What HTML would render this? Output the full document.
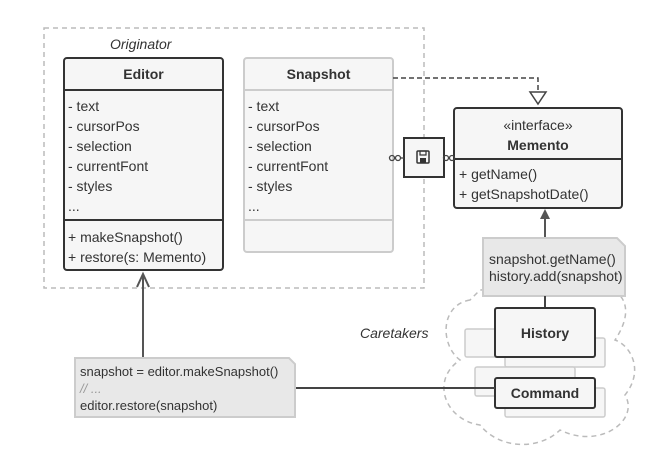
<!DOCTYPE html>
<html><head><style>
body{margin:0;background:#fff}
svg{display:block}
text{font-family:"Liberation Sans",sans-serif;font-size:14px;fill:#333}
.b{font-weight:bold}
.i{font-style:italic}
.n{font-size:13px}
</style></head><body>
<svg width="672" height="470" viewBox="0 0 672 470">
<!-- Originator -->
<rect x="44" y="28" width="380" height="260" fill="none" stroke="#bbb" stroke-width="1.5" stroke-dasharray="5,4"/>
<text x="110" y="49" class="i">Originator</text>
<!-- Editor -->
<rect x="64" y="58" width="159" height="212" rx="3" fill="#f6f6f6" stroke="#333" stroke-width="2"/>
<line x1="64" y1="90" x2="223" y2="90" stroke="#333" stroke-width="2"/>
<line x1="64" y1="220" x2="223" y2="220" stroke="#333" stroke-width="2"/>
<text x="143.5" y="79" text-anchor="middle" class="b">Editor</text>
<text x="68" y="111">- text</text>
<text x="68" y="131">- cursorPos</text>
<text x="68" y="151">- selection</text>
<text x="68" y="171">- currentFont</text>
<text x="68" y="191">- styles</text>
<text x="68" y="211">...</text>
<text x="68" y="242">+ makeSnapshot()</text>
<text x="68" y="262">+ restore(s: Memento)</text>
<!-- Snapshot -->
<rect x="244" y="58" width="149" height="194" rx="3" fill="#f6f6f6" stroke="#ccc" stroke-width="2"/>
<line x1="244" y1="90" x2="393" y2="90" stroke="#ccc" stroke-width="2"/>
<line x1="244" y1="220" x2="393" y2="220" stroke="#ccc" stroke-width="2"/>
<text x="318.5" y="79" text-anchor="middle" class="b">Snapshot</text>
<text x="248" y="111">- text</text>
<text x="248" y="131">- cursorPos</text>
<text x="248" y="151">- selection</text>
<text x="248" y="171">- currentFont</text>
<text x="248" y="191">- styles</text>
<text x="248" y="211">...</text>
<!-- realization dashed -->
<polyline points="393,78 538,78 538,92" fill="none" stroke="#444" stroke-width="1.5" stroke-dasharray="5,3"/>
<polygon points="530,92 546,92 538,104" fill="#fff" stroke="#444" stroke-width="1.5"/>
<!-- Memento -->
<rect x="454" y="108" width="168" height="100" rx="3" fill="#f6f6f6" stroke="#333" stroke-width="2"/>
<line x1="454" y1="159" x2="622" y2="159" stroke="#333" stroke-width="2"/>
<text x="538" y="130" text-anchor="middle">«interface»</text>
<text x="538" y="150" text-anchor="middle" class="b">Memento</text>
<text x="459" y="179">+ getName()</text>
<text x="459" y="199">+ getSnapshotDate()</text>
<!-- save icon box -->
<rect x="404" y="138" width="40" height="39" fill="#f6f6f6" stroke="#333" stroke-width="2"/>
<rect x="417" y="151" width="12" height="12" rx="1" fill="none" stroke="#333" stroke-width="1.5"/>
<rect x="420" y="151" width="6" height="4" fill="none" stroke="#333" stroke-width="1.2"/>
<rect x="420" y="158" width="6" height="5" fill="#333"/>
<circle cx="392" cy="158" r="2.5" fill="none" stroke="#444" stroke-width="1.3"/>
<circle cx="398" cy="158" r="2.5" fill="none" stroke="#444" stroke-width="1.3"/>
<line x1="400" y1="158" x2="404" y2="158" stroke="#444" stroke-width="1.3"/>
<circle cx="446" cy="158" r="2.5" fill="none" stroke="#444" stroke-width="1.3"/>
<circle cx="452" cy="158" r="2.5" fill="none" stroke="#444" stroke-width="1.3"/>
<!-- arrow note -> memento -->
<line x1="545" y1="238" x2="545" y2="216" stroke="#555" stroke-width="2"/>
<polygon points="540,219 550,219 545,209" fill="#555"/>
<!-- cloud -->
<path d="M470,300 C440,305 440,345 460,360 C430,380 445,420 480,425 C500,450 540,450 560,430 C600,450 640,420 625,395 C645,370 630,345 615,340 C635,310 625,290 600,285 L480,290 Z" fill="none" stroke="#bbb" stroke-width="1.5" stroke-dasharray="5,4"/>
<text x="360" y="338" class="i">Caretakers</text>
<!-- note 1 -->
<path d="M483,238 L617,238 L625,246 L625,296 L483,296 Z" fill="#e8e8e8" stroke="#ccc" stroke-width="2"/>
<text x="489" y="264">snapshot.getName()</text>
<text x="489" y="281">history.add(snapshot)</text>
<line x1="545" y1="296" x2="545" y2="308" stroke="#444" stroke-width="2"/>
<!-- ghosts -->
<rect x="465" y="329" width="90" height="28" rx="2" fill="#f6f6f6" stroke="#ccc" stroke-width="1.5"/>
<rect x="505" y="338" width="100" height="29" rx="2" fill="#f6f6f6" stroke="#ccc" stroke-width="1.5"/>
<rect x="475" y="367" width="100" height="29" rx="2" fill="#f6f6f6" stroke="#ccc" stroke-width="1.5"/>
<rect x="505" y="388" width="100" height="29" rx="2" fill="#f6f6f6" stroke="#ccc" stroke-width="1.5"/>
<!-- History -->
<rect x="495" y="308" width="100" height="49" rx="2" fill="#f6f6f6" stroke="#333" stroke-width="2"/>
<text x="545" y="338" text-anchor="middle" class="b">History</text>
<!-- Command -->
<rect x="495" y="378" width="100" height="30" rx="2" fill="#f6f6f6" stroke="#333" stroke-width="2"/>
<text x="545" y="398" text-anchor="middle" class="b">Command</text>
<!-- note 2 -->
<line x1="295" y1="388" x2="495" y2="388" stroke="#444" stroke-width="2"/>
<line x1="143" y1="358" x2="143" y2="274" stroke="#555" stroke-width="2"/>
<polyline points="137,287 143,274 149,287" fill="none" stroke="#555" stroke-width="2"/>
<path d="M75,358 L289,358 L295,364 L295,417 L75,417 Z" fill="#e8e8e8" stroke="#ccc" stroke-width="2"/>
<text x="80" y="376" class="n">snapshot = editor.makeSnapshot()</text>
<text x="80" y="393" class="n i" style="fill:#999">// ...</text>
<text x="80" y="410" class="n">editor.restore(snapshot)</text>
</svg>
</body></html>
